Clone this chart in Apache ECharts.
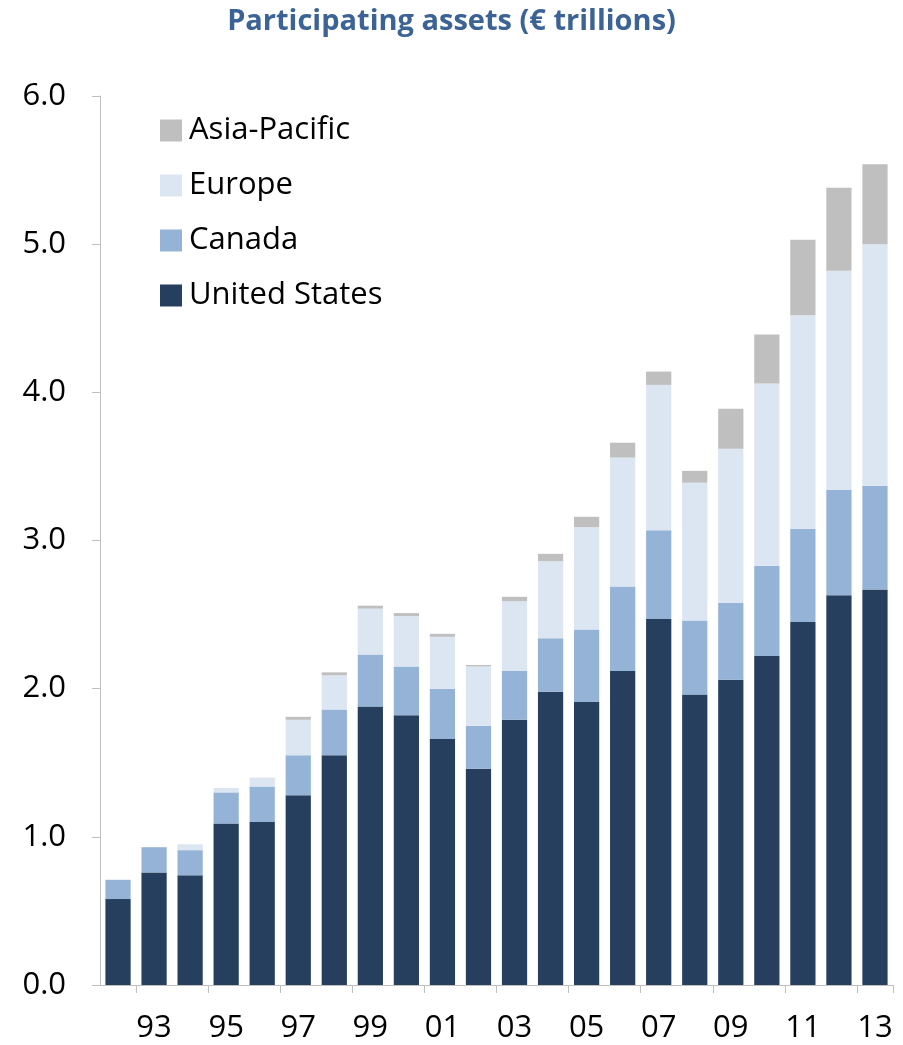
<!DOCTYPE html>
<html><head><meta charset="utf-8">
<script src="https://cdn.jsdelivr.net/npm/echarts@6/dist/echarts.min.js"></script>
<style>html,body{margin:0;padding:0;background:#fff}#c{width:903px;height:1045px}</style>
</head><body><div id="c"></div>
<script>
var years = ['92','93','94','95','96','97','98','99','00','01','02','03','04','05','06','07','08','09','10','11','12','13'];
var unitedStates = [0.58,0.76,0.74,1.09,1.10,1.28,1.55,1.88,1.82,1.66,1.46,1.79,1.98,1.91,2.12,2.47,1.96,2.06,2.22,2.45,2.63,2.67];
var canada = [0.13,0.17,0.17,0.21,0.24,0.27,0.31,0.35,0.33,0.34,0.29,0.33,0.36,0.49,0.57,0.60,0.50,0.52,0.61,0.63,0.71,0.70];
var europe = [0,0,0.04,0.03,0.06,0.24,0.23,0.31,0.34,0.35,0.40,0.47,0.52,0.69,0.87,0.98,0.93,1.04,1.23,1.44,1.48,1.63];
var asiaPacific = [0,0,0,0,0,0.02,0.02,0.02,0.02,0.02,0.01,0.03,0.05,0.07,0.10,0.09,0.08,0.27,0.33,0.51,0.56,0.54];
var yTicks = [0, 6, 1];

var font = '"Open Sans", "Noto Sans", sans-serif';
function bar(name, data, color) {
  return {name: name, type: 'bar', stack: 'a', data: data, barCategoryGap: '30%',
    itemStyle: {color: color}};
}
var chart = echarts.init(document.getElementById('c'));
chart.setOption({
  animation: false,
  title: {text: 'Participating assets (€ trillions)', left: 'center', top: 2,
    textStyle: {color: '#3b6396', fontSize: 29, fontWeight: 'bold', fontFamily: font}},
  legend: {orient: 'vertical', left: 155, top: 110, itemGap: 24, itemWidth: 22, itemHeight: 22,
    icon: 'rect', data: ['Asia-Pacific', 'Europe', 'Canada', 'United States'],
    textStyle: {fontSize: 31, color: '#000', fontFamily: font, padding: [0, 0, 0, 2]}},
  grid: {left: 100, right: 10, top: 96, bottom: 60},
  xAxis: {type: 'category', data: years,
    axisLine: {lineStyle: {color: '#bfbfbf'}},
    axisTick: {show: true, length: 8, lineStyle: {color: '#bfbfbf'}},
    axisLabel: {fontSize: 31, color: '#000', fontFamily: font, margin: 28,
      interval: function (i) { return i % 2 === 1; }}},
  yAxis: {type: 'value', min: yTicks[0], max: yTicks[1], interval: yTicks[2],
    splitLine: {show: false},
    axisLine: {show: true, lineStyle: {color: '#bfbfbf'}},
    axisTick: {show: true, length: 8, lineStyle: {color: '#bfbfbf'}},
    axisLabel: {fontSize: 31, color: '#000', fontFamily: font, margin: 34,
      formatter: function (v) { return v.toFixed(1); }}},
  series: [
    bar('United States', unitedStates, '#263f5f'),
    bar('Canada', canada, '#95b3d7'),
    bar('Europe', europe, '#dce6f2'),
    bar('Asia-Pacific', asiaPacific, '#bfbfbf')
  ]
});
</script></body></html>
